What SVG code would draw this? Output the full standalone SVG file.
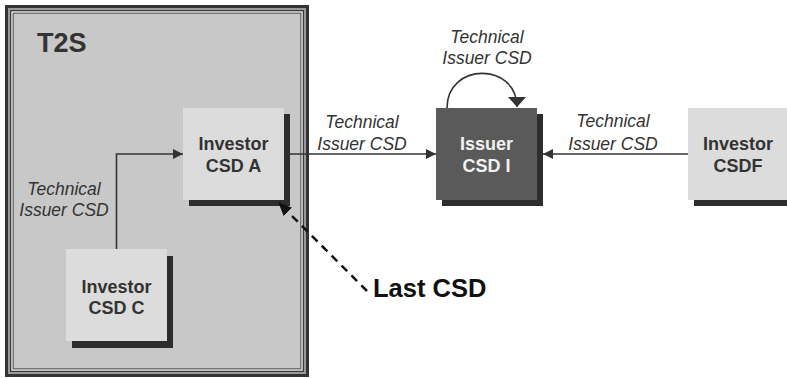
<svg xmlns="http://www.w3.org/2000/svg" width="787" height="378" viewBox="0 0 787 378">
<style>
.shadow{fill:#2d2d2d}
.box{fill:#dcdcdc}
.dark{fill:#5a5a5a}
.nt{font-family:"Liberation Sans",Arial,sans-serif;font-weight:bold;font-size:18px;fill:#333;text-anchor:middle}
.ntw{fill:#f2f2f2}
.lbl{font-family:"Liberation Sans",Arial,sans-serif;font-style:italic;font-size:17.5px;fill:#333;text-anchor:middle}
.edge{fill:none;stroke:#333;stroke-width:1.6}
</style>
<defs>
<marker id="arr" viewBox="0 0 10 10" markerWidth="10" markerHeight="10" refX="10" refY="5" orient="auto" markerUnits="userSpaceOnUse"><path d="M0,0 L10,5 L0,10 z" fill="#333"/></marker>
<marker id="arrL" viewBox="0 0 10 18" markerWidth="10" markerHeight="18" refX="10" refY="9" orient="auto" markerUnits="userSpaceOnUse"><path d="M0,0 L10,9 L0,18 z" fill="#333"/></marker>
<marker id="arrD" viewBox="0 0 14 12" markerWidth="14" markerHeight="12" refX="0" refY="6" orient="auto" markerUnits="userSpaceOnUse"><path d="M0,0 L14,6 L0,12 z" fill="#111"/></marker>
</defs>
<rect width="787" height="378" fill="#fff"/>
<g id="t2s">
<rect x="6.5" y="6.5" width="301" height="369" fill="#c8c8c8" stroke="#333" stroke-width="3"/>
<rect x="9" y="9" width="296" height="364" fill="none" stroke="#9a9a9a" stroke-width="2"/>
<rect x="10.7" y="10.7" width="292.6" height="360.6" fill="none" stroke="#333" stroke-width="1.3"/>
<rect x="12" y="12" width="290" height="358" fill="none" stroke="#eaeaea" stroke-width="1"/>
<rect x="13.2" y="13.2" width="287.6" height="355.6" fill="none" stroke="#555" stroke-width="1"/>
<text x="37" y="52" font-family="Liberation Sans,Arial,sans-serif" font-weight="bold" font-size="27" fill="#333">T2S</text>
</g>
<g id="csdA">
<rect class="shadow" x="189" y="114" width="101" height="92"/>
<rect class="box" x="183" y="108" width="101" height="92"/>
<text class="nt" x="233.5" y="150">Investor</text>
<text class="nt" x="233.5" y="172">CSD A</text>
</g>
<g id="csdC">
<rect class="shadow" x="72" y="256" width="101" height="92"/>
<rect class="box" x="66" y="249" width="101" height="92"/>
<text class="nt" x="116.5" y="293">Investor</text>
<text class="nt" x="116.5" y="314">CSD C</text>
</g>
<g id="csdI">
<rect class="shadow" x="442" y="114" width="101" height="92"/>
<rect class="dark" x="436" y="108" width="101" height="92"/>
<text class="nt ntw" x="486.5" y="150">Issuer</text>
<text class="nt ntw" x="486.5" y="172">CSD I</text>
</g>
<g id="csdF">
<rect class="shadow" x="694" y="114" width="101" height="92"/>
<rect class="box" x="688" y="108" width="101" height="92"/>
<text class="nt" x="738" y="150">Investor</text>
<text class="nt" x="738" y="172">CSDF</text>
</g>
<g id="connectors">
<path class="edge" d="M116.5,249 V154 H183" stroke-width="1.2" marker-end="url(#arr)"/>
<path class="edge" d="M284,154 H436" marker-end="url(#arr)"/>
<path class="edge" d="M688,154 H543" marker-end="url(#arr)"/>
<path class="edge" d="M447,108 C447,62 517,62 517,107" stroke-width="2" marker-end="url(#arrL)"/>
<path d="M367,291 L288,212" fill="none" stroke="#111" stroke-width="2.5" stroke-dasharray="8,6" marker-end="url(#arrD)"/>
<text class="lbl" x="64" y="195">Technical</text>
<text class="lbl" x="64" y="216">Issuer CSD</text>
<text class="lbl" x="362" y="128">Technical</text>
<text class="lbl" x="362" y="150">Issuer CSD</text>
<text class="lbl" x="487" y="43">Technical</text>
<text class="lbl" x="487" y="64">Issuer CSD</text>
<text class="lbl" x="613" y="127">Technical</text>
<text class="lbl" x="613" y="150">Issuer CSD</text>
<text x="373" y="297" font-family="Liberation Sans,Arial,sans-serif" font-weight="bold" font-size="25.5" fill="#111">Last CSD</text>
</g>
</svg>
